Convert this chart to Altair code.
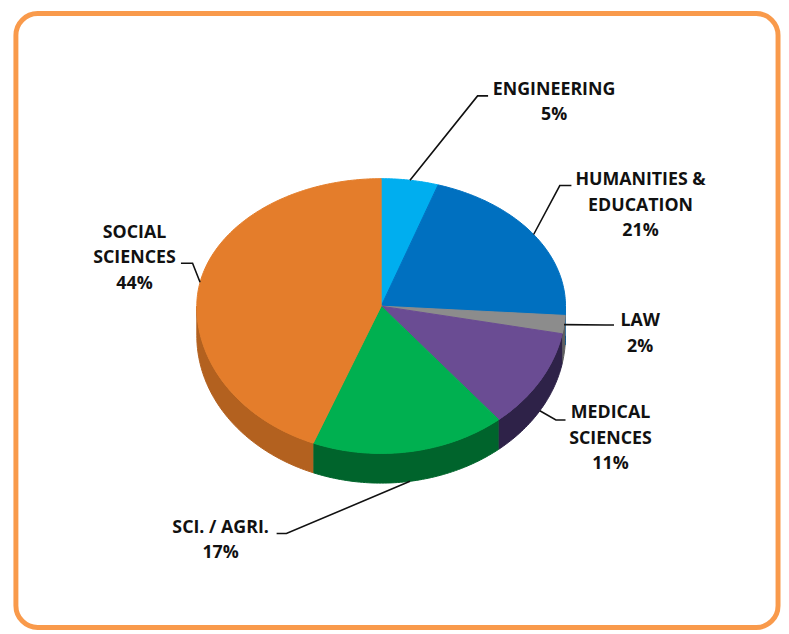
import math
import altair as alt
import pandas as pd

# ---- data (clockwise from 12 o'clock) ----
CATEGORIES = ["ENGINEERING", "HUMANITIES & EDUCATION", "LAW",
              "MEDICAL SCIENCES", "SCI. / AGRI.", "SOCIAL SCIENCES"]
SHARES = [5, 21, 2, 11, 17, 44]
LABEL_LINES = [["ENGINEERING"], ["HUMANITIES &", "EDUCATION"], ["LAW"],
               ["MEDICAL", "SCIENCES"], ["SCI. / AGRI."], ["SOCIAL", "SCIENCES"]]

# ---- style ----
TOP_COLORS = ["#00AEEF", "#0070C0", "#8C8C8C", "#6A4C93", "#00B050", "#E47D2B"]
SIDE_COLORS = ["#0085B8", "#00508C", "#5E5E5E", "#2E2248", "#00642C", "#B3611F"]
FRONT = 1.155      # perspective: front half of the rim appears larger
DEPTH = 0.2326     # thickness of the pie (in y units)

# label layout (chart units): elbow of leader, end of leader, text anchor (center, top)
LABEL_LAYOUT = [
    dict(elbow=(0.523, 1.649), end=(0.580, 1.649), text=(0.938, 1.760)),
    dict(elbow=(0.969, 0.946), end=(1.032, 0.946), text=(1.407, 1.050)),
    dict(elbow=(1.220, -0.147), end=(1.263, -0.147), text=(1.405, -0.057)),
    dict(elbow=(0.948, -0.892), end=(1.000, -0.892), text=(1.244, -0.777)),
    dict(elbow=(-0.514, -1.783), end=(-0.567, -1.783), text=(-0.871, -1.676)),
    dict(elbow=(-1.023, 0.336), end=(-1.086, 0.336), text=(-1.338, 0.636)),
]

W, H = 771, 621
X_DOMAIN = [-1.98123, 2.15282]
Y_DOMAIN = [-2.51938, 2.29457]


def rim(theta):
    t = math.radians(theta)
    c = math.cos(t)
    return math.sin(t), (c if c >= 0 else c * FRONT)


def arc_points(a, b):
    n = max(2, int(abs(b - a)) + 1)
    return [a + (b - a) * k / n for k in range(n + 1)]


total = sum(SHARES)
bounds = []
acc = 0.0
for s in SHARES:
    a = acc / total * 360.0
    acc += s
    bounds.append((a, acc / total * 360.0))

top_rows, side_rows, lead_rows, text_rows = [], [], [], []
for cat, (a, b), share, lines, lay in zip(CATEGORIES, bounds, SHARES, LABEL_LINES, LABEL_LAYOUT):
    # top face
    i = 0
    top_rows.append(dict(cat=cat, i=i, x=0.0, y=0.0)); i += 1
    for th in arc_points(a, b):
        x, y = rim(th)
        top_rows.append(dict(cat=cat, i=i, x=x, y=y)); i += 1
    top_rows.append(dict(cat=cat, i=i, x=0.0, y=0.0))
    # visible side (front half of rim: 90..270 deg)
    lo, hi = max(a, 90.0), min(b, 270.0)
    if hi > lo:
        j = 0
        pts = arc_points(lo, hi)
        for th in pts:
            x, y = rim(th)
            side_rows.append(dict(cat=cat, i=j, x=x, y=y)); j += 1
        for th in reversed(pts):
            x, y = rim(th)
            side_rows.append(dict(cat=cat, i=j, x=x, y=y - DEPTH)); j += 1
    # leader line
    mid = (a + b) / 2
    sx, sy = rim(mid)
    if math.cos(math.radians(mid)) < -0.3:
        sy -= DEPTH
    lead_rows += [dict(cat=cat, i=0, x=sx, y=sy),
                  dict(cat=cat, i=1, x=lay["elbow"][0], y=lay["elbow"][1]),
                  dict(cat=cat, i=2, x=lay["end"][0], y=lay["end"][1])]
    text_rows.append(dict(cat=cat, label="\n".join(lines + [f"{share}%"]),
                          x=lay["text"][0], y=lay["text"][1]))

xs = alt.Scale(domain=X_DOMAIN, nice=False, zero=False)
ys = alt.Scale(domain=Y_DOMAIN, nice=False, zero=False)
X = alt.X("x:Q", scale=xs, axis=None)
Y = alt.Y("y:Q", scale=ys, axis=None)

side = alt.Chart(pd.DataFrame(side_rows)).mark_line(filled=True, strokeWidth=1).encode(
    x=X, y=Y, order=alt.Order("i:Q"),
    color=alt.Color("cat:N", scale=alt.Scale(domain=CATEGORIES, range=SIDE_COLORS), legend=None),
    stroke=alt.Stroke("cat:N", scale=alt.Scale(domain=CATEGORIES, range=SIDE_COLORS), legend=None),
)

top = alt.Chart(pd.DataFrame(top_rows)).mark_line(filled=True, strokeWidth=1).encode(
    x=X, y=Y, order=alt.Order("i:Q"),
    color=alt.Color("cat:N", scale=alt.Scale(domain=CATEGORIES, range=TOP_COLORS), legend=None),
    stroke=alt.Stroke("cat:N", scale=alt.Scale(domain=CATEGORIES, range=TOP_COLORS), legend=None),
)

leaders = alt.Chart(pd.DataFrame(lead_rows)).mark_line(color="#111111", strokeWidth=1.6).encode(
    x=X, y=Y, order=alt.Order("i:Q"), detail="cat:N",
)

labels = alt.Chart(pd.DataFrame(text_rows)).mark_text(
    align="center", baseline="top", font="Open Sans", fontWeight="bold",
    fontSize=18, lineBreak="\n", lineHeight=25.8, color="#111111", dy=-1,
).encode(x=X, y=Y, text="label:N")

chart = alt.layer(side, top, leaders, labels).resolve_scale(
    color="independent", stroke="independent"
).properties(
    width=W, height=H,
    padding={"left": 8, "top": 2, "right": 3, "bottom": 3},
    background="white",
).configure_view(stroke="#F99A4B", strokeWidth=5, cornerRadius=22)

chart.save("out.html", embed_options={"renderer": "svg", "actions": False})
